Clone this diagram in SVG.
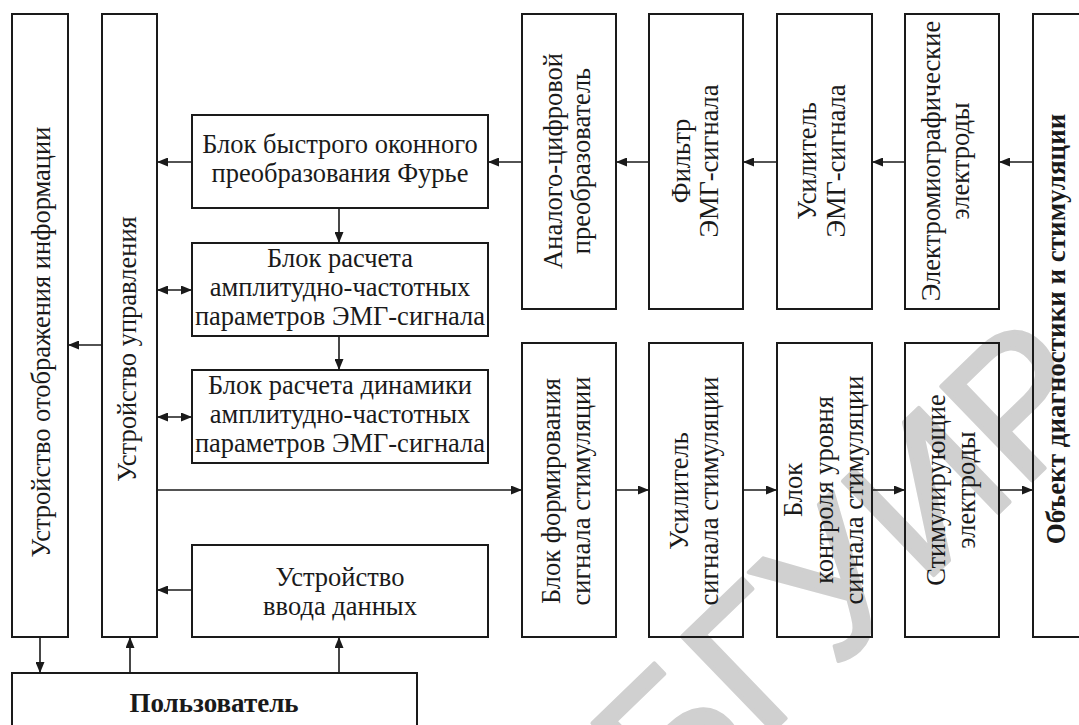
<svg xmlns="http://www.w3.org/2000/svg" width="1079" height="725" viewBox="0 0 1079 725">
<style>
.box{fill:none;stroke:#1a1a1a;stroke-width:2}
.ln{fill:none;stroke:#1a1a1a;stroke-width:1.6}
text{font-family:"Liberation Serif","Times New Roman",serif;font-size:26.5px;fill:#1a1a1a}
.c{text-anchor:middle}
.b{font-weight:bold;font-size:27px}
.wm{font-family:"Liberation Sans",Arial,sans-serif;font-size:190px;fill:#d0d0d0;stroke:#d0d0d0;stroke-width:4;stroke-linejoin:round}
</style>
<defs>
<marker id="ah" markerUnits="userSpaceOnUse" markerWidth="11" markerHeight="9" refX="11" refY="4.5" orient="auto-start-reverse">
<path d="M0,0 L11,4.5 L0,9 z" fill="#1a1a1a"/>
</marker>
</defs>
<rect width="1079" height="725" fill="#ffffff"/>
<g id="watermark" transform="translate(672,828) rotate(-44)">
<text class="wm" x="0" y="0">БГУИР</text>
</g>

<g id="display"><rect class="box" x="12" y="14" width="56" height="623"/>
<text class="c" transform="translate(50,342) rotate(-90)">Устройство отображения информации</text></g>
<g id="control"><rect class="box" x="102" y="14" width="55" height="623"/>
<text class="c" transform="translate(136,349) rotate(-90)">Устройство управления</text></g>
<g id="fft"><rect class="box" x="192" y="115" width="296" height="93"/>
<text class="c" x="340" y="153">Блок быстрого оконного</text>
<text class="c" x="340" y="182">преобразования Фурье</text></g>
<g id="afp"><rect class="box" x="192" y="243" width="296" height="93"/>
<text class="c" x="340" y="267">Блок расчета</text>
<text class="c" x="340" y="296">амплитудно-частотных</text>
<text class="c" x="340" y="325">параметров ЭМГ-сигнала</text></g>
<g id="dyn"><rect class="box" x="192" y="370" width="296" height="93"/>
<text class="c" x="340" y="394">Блок расчета динамики</text>
<text class="c" x="340" y="423">амплитудно-частотных</text>
<text class="c" x="340" y="452">параметров ЭМГ-сигнала</text></g>
<g id="input"><rect class="box" x="192" y="545" width="296" height="92"/>
<text class="c" x="340" y="586">Устройство</text>
<text class="c" x="340" y="615">ввода данных</text></g>
<g id="user"><rect class="box" x="12" y="673" width="405" height="60"/>
<text class="c b" x="214" y="712">Пользователь</text></g>

<g id="adc"><rect class="box" x="522" y="14" width="94" height="295"/>
<text class="c" transform="translate(562,161) rotate(-90)">Аналого-цифровой</text>
<text class="c" transform="translate(590,161) rotate(-90)">преобразователь</text></g>
<g id="filter"><rect class="box" x="649" y="14" width="94" height="295"/>
<text class="c" transform="translate(690,161) rotate(-90)">Фильтр</text>
<text class="c" transform="translate(718,161) rotate(-90)">ЭМГ-сигнала</text></g>
<g id="amp"><rect class="box" x="777" y="14" width="95" height="295"/>
<text class="c" transform="translate(816,161) rotate(-90)">Усилитель</text>
<text class="c" transform="translate(845,161) rotate(-90)">ЭМГ-сигнала</text></g>
<g id="emg"><rect class="box" x="905" y="14" width="94" height="295"/>
<text class="c" transform="translate(940,161) rotate(-90)">Электромиографические</text>
<text class="c" transform="translate(969,161) rotate(-90)">электроды</text></g>
<g id="object"><rect class="box" x="1033" y="14" width="60" height="623"/>
<text class="c b" transform="translate(1065,329) rotate(-90)">Объект диагностики и стимуляции</text></g>

<g id="form"><rect class="box" x="522" y="343" width="94" height="294"/>
<text class="c" transform="translate(560,491) rotate(-90)">Блок формирования</text>
<text class="c" transform="translate(590,491) rotate(-90)">сигнала стимуляции</text></g>
<g id="stamp"><rect class="box" x="649" y="343" width="94" height="294"/>
<text class="c" transform="translate(688,491) rotate(-90)">Усилитель</text>
<text class="c" transform="translate(718,491) rotate(-90)">сигнала стимуляции</text></g>
<g id="level"><rect class="box" x="777" y="343" width="95" height="294"/>
<text class="c" transform="translate(802,490) rotate(-90)">Блок</text>
<text class="c" transform="translate(833,490) rotate(-90)">контроля уровня</text>
<text class="c" transform="translate(863,490) rotate(-90)">сигнала стимуляции</text></g>
<g id="stimel"><rect class="box" x="905" y="343" width="94" height="294"/>
<text class="c" transform="translate(945,490) rotate(-90)">Стимулирующие</text>
<text class="c" transform="translate(975,490) rotate(-90)">электроды</text></g>

<g id="connectors">
<line class="ln" x1="192" y1="162" x2="157" y2="162" marker-end="url(#ah)"/>
<line class="ln" x1="157" y1="290" x2="192" y2="290" marker-start="url(#ah)" marker-end="url(#ah)"/>
<line class="ln" x1="157" y1="417" x2="192" y2="417" marker-start="url(#ah)" marker-end="url(#ah)"/>
<line class="ln" x1="339" y1="208" x2="339" y2="243" marker-end="url(#ah)"/>
<line class="ln" x1="339" y1="336" x2="339" y2="370" marker-end="url(#ah)"/>
<line class="ln" x1="102" y1="345" x2="68" y2="345" marker-end="url(#ah)"/>
<line class="ln" x1="192" y1="590" x2="157" y2="590" marker-end="url(#ah)"/>
<line class="ln" x1="40" y1="637" x2="40" y2="673" marker-end="url(#ah)"/>
<line class="ln" x1="130" y1="673" x2="130" y2="637" marker-end="url(#ah)"/>
<line class="ln" x1="339" y1="673" x2="339" y2="637" marker-end="url(#ah)"/>
<line class="ln" x1="522" y1="162" x2="488" y2="162" marker-end="url(#ah)"/>
<line class="ln" x1="649" y1="162" x2="616" y2="162" marker-end="url(#ah)"/>
<line class="ln" x1="777" y1="162" x2="743" y2="162" marker-end="url(#ah)"/>
<line class="ln" x1="905" y1="162" x2="872" y2="162" marker-end="url(#ah)"/>
<line class="ln" x1="1033" y1="162" x2="999" y2="162" marker-end="url(#ah)"/>
<line class="ln" x1="157" y1="490" x2="522" y2="490" marker-end="url(#ah)"/>
<line class="ln" x1="616" y1="490" x2="649" y2="490" marker-end="url(#ah)"/>
<line class="ln" x1="743" y1="490" x2="777" y2="490" marker-end="url(#ah)"/>
<line class="ln" x1="872" y1="490" x2="905" y2="490" marker-end="url(#ah)"/>
<line class="ln" x1="999" y1="490" x2="1033" y2="490" marker-end="url(#ah)"/>
</g>
</svg>
